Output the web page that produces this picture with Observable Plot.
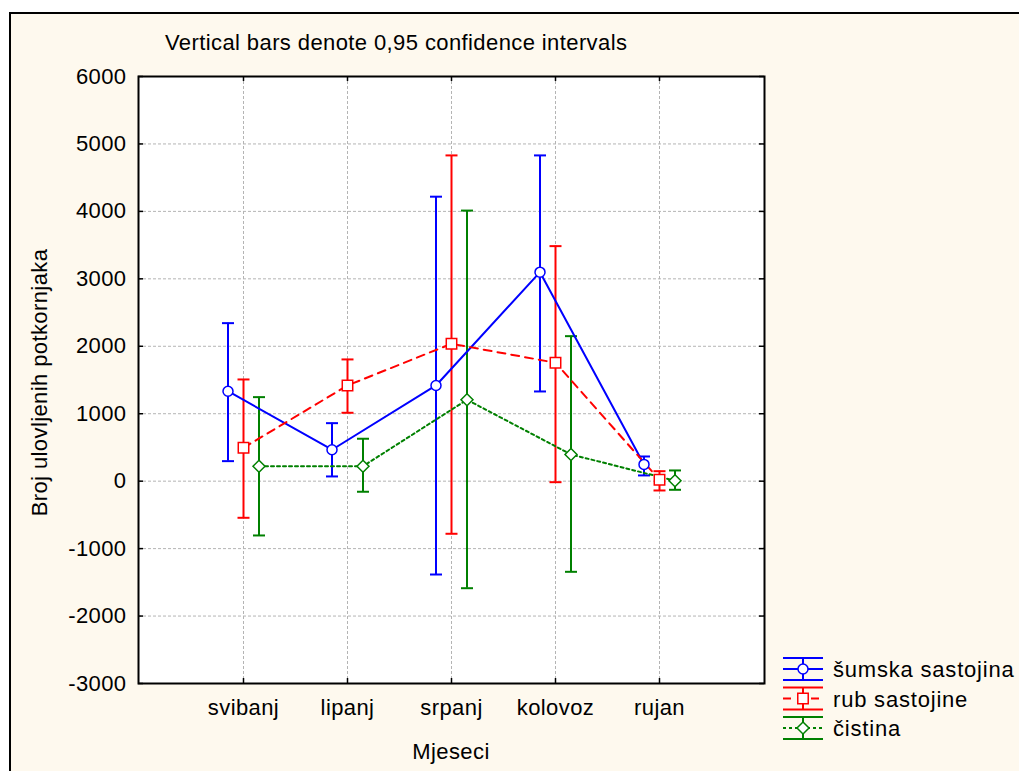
<!DOCTYPE html>
<html><head><meta charset="utf-8">
<script src="https://cdn.jsdelivr.net/npm/d3@7"></script>
<script src="https://cdn.jsdelivr.net/npm/@observablehq/plot@0.6"></script>
<style>
body{margin:0;background:#fff;width:1019px;height:771px;overflow:hidden;position:relative;font-family:"Liberation Sans",Arial,sans-serif;}
#panel{position:absolute;left:9px;top:12px;width:1040px;height:800px;background:#fef9ee;border-left:2px solid #000;border-top:2px solid #000;box-sizing:border-box}
#chart{position:absolute;left:0;top:0}
#chart svg text{letter-spacing:0.4px}
#overlay{position:absolute;left:0;top:0;pointer-events:none}
#overlay text{font-family:"Liberation Sans",Arial,sans-serif;font-size:22px;letter-spacing:0.4px;fill:#000}
#overlay text.leg{letter-spacing:0.8px}
</style></head><body>
<div id="panel"></div>
<div id="chart"></div>
<svg id="overlay" width="1019" height="771"></svg>
<script>
// ---- data ----
const months = ["svibanj", "lipanj", "srpanj", "kolovoz", "rujan"];
const seriesNames = ["šumska sastojina", "rub sastojine", "čistina"];
const yTicks = [-3000, -2000, -1000, 0, 1000, 2000, 3000, 4000, 5000, 6000];

const sumMean = [1334, 466, 1419, 3099, 248];
const sumLo   = [297, 70, -1384, 1330, 85];
const sumHi   = [2343, 860, 4218, 4830, 366];

const rubMean = [495, 1419, 2037, 1756, 20];
const rubLo   = [-543, 1014, -780, -15, -138];
const rubHi   = [1508, 1805, 4830, 3485, 148];

const cisMean = [222, 222, 1207, 396, 6];
const cisLo   = [-805, -157, -1587, -1344, -128];
const cisHi   = [1246, 629, 4012, 2150, 159];

const titleText = "Vertical bars denote 0,95 confidence intervals";
const xLabel = "Mjeseci";
const yLabel = "Broj ulovljenih potkornjaka";

// ---- styles ----
const W = 1019, H = 771;
const mL = 138, mR = 255, mT = 76, mB = 88;
const plotW = W - mL - mR, plotH = H - mT - mB;

const series = [
  {name: seriesNames[0], color: "#0000ff", mean: sumMean, lo: sumLo, hi: sumHi, dx: -15.5, symbol: "circle", r: 5, dash: null},
  {name: seriesNames[1], color: "#ff0000", mean: rubMean, lo: rubLo, hi: rubHi, dx: 0, symbol: "square", r: 5.9, dash: "8,6"},
  {name: seriesNames[2], color: "#008000", mean: cisMean, lo: cisLo, hi: cisHi, dx: 15.5, symbol: "diamond2", r: 5.4, dash: "3,3"}
];
const rowsOf = s => months.map((m, i) => ({month: m, mean: s.mean[i], lo: s.lo[i], hi: s.hi[i]}));

// horizontal cap symbol for error bars
const capSymbol = {
  draw(ctx, size) {
    const r = Math.sqrt(size / Math.PI);
    ctx.moveTo(-r, 0);
    ctx.lineTo(r, 0);
  }
};

const barMarks = [], lineMarks = [], dotMarks = [];
for (const s of series) {
  const d = rowsOf(s);
  barMarks.push(Plot.ruleX(d, {x: "month", y1: "lo", y2: "hi", dx: s.dx, stroke: s.color, strokeWidth: 2}));
  barMarks.push(Plot.dot(d, {x: "month", y: "hi", dx: s.dx, symbol: capSymbol, r: 6, fill: "none", stroke: s.color, strokeWidth: 2}));
  barMarks.push(Plot.dot(d, {x: "month", y: "lo", dx: s.dx, symbol: capSymbol, r: 6, fill: "none", stroke: s.color, strokeWidth: 2}));
  lineMarks.push(Plot.lineY(d, {x: "month", y: "mean", dx: s.dx, stroke: s.color, strokeWidth: 2, strokeDasharray: s.dash}));
  dotMarks.push(Plot.dot(d, {x: "month", y: "mean", dx: s.dx, symbol: s.symbol, r: s.r, fill: "white", stroke: s.color, strokeWidth: 1.5}));
}

const chart = Plot.plot({
  width: W, height: H,
  marginLeft: mL, marginRight: mR, marginTop: mT, marginBottom: mB,
  style: {background: "transparent", fontFamily: "Liberation Sans, Arial, sans-serif", fontSize: "22px", color: "#000", overflow: "visible"},
  x: {type: "point", domain: months, padding: 1},
  y: {domain: [-3000, 6000]},
  marks: [
    Plot.frame({fill: "white"}),
    Plot.gridY(yTicks, {stroke: "#b4b4b4", strokeOpacity: 1, strokeDasharray: "3,2"}),
    Plot.gridX(months, {stroke: "#b4b4b4", strokeOpacity: 1, strokeDasharray: "3,2"}),
    Plot.tickY(yTicks, {y: d => d, stroke: "#000", strokeWidth: 1.5, insetRight: plotW - 5}),
    Plot.tickY(yTicks, {y: d => d, stroke: "#000", strokeWidth: 1.5, insetLeft: plotW - 5}),
    Plot.tickX(months, {x: d => d, stroke: "#000", strokeWidth: 1.5, insetTop: plotH - 5}),
    Plot.tickX(months, {x: d => d, stroke: "#000", strokeWidth: 1.5, insetBottom: plotH - 5}),
    Plot.axisY(yTicks, {tickSize: 0, tickPadding: 12, tickFormat: d => String(d), label: null}),
    Plot.axisX(months, {tickSize: 0, tickPadding: 16, label: null}),
    ...barMarks,
    ...lineMarks,
    ...dotMarks,
    Plot.frame({stroke: "#000", strokeWidth: 2})
  ]
});
document.getElementById("chart").appendChild(chart);

// ---- titles and legend ----
const ov = d3.select("#overlay");
ov.append("text").attr("x", 165).attr("y", 50).text(titleText);
ov.append("text").attr("x", mL + plotW / 2).attr("y", 759).attr("text-anchor", "middle").text(xLabel);
ov.append("text").attr("transform", `translate(47,${mT + plotH / 2 + 3}) rotate(-90)`).attr("text-anchor", "middle").text(yLabel);

series.forEach((s, i) => {
  const cy = 669 + i * 29.5, x0 = 783, x1 = 823, cx = 803;
  const g = ov.append("g").attr("stroke", s.color).attr("stroke-width", 2).attr("fill", "none");
  g.append("line").attr("x1", x0).attr("x2", x1).attr("y1", cy - 11).attr("y2", cy - 11);
  g.append("line").attr("x1", x0).attr("x2", x1).attr("y1", cy + 11).attr("y2", cy + 11);
  g.append("line").attr("x1", cx).attr("x2", cx).attr("y1", cy - 11).attr("y2", cy + 11);
  g.append("line").attr("x1", x0).attr("x2", x1).attr("y1", cy).attr("y2", cy).attr("stroke-dasharray", s.dash);
  const sym = {circle: d3.symbolCircle, square: d3.symbolSquare, diamond2: d3.symbolDiamond2}[s.symbol];
  g.append("path").attr("transform", `translate(${cx},${cy})`)
    .attr("d", d3.symbol(sym, s.r * s.r * Math.PI)()).attr("fill", "white").attr("stroke-width", 1.5);
  ov.append("text").attr("class", "leg").attr("x", 833).attr("y", cy + 8).text(s.name);
});
</script>
</body></html>
